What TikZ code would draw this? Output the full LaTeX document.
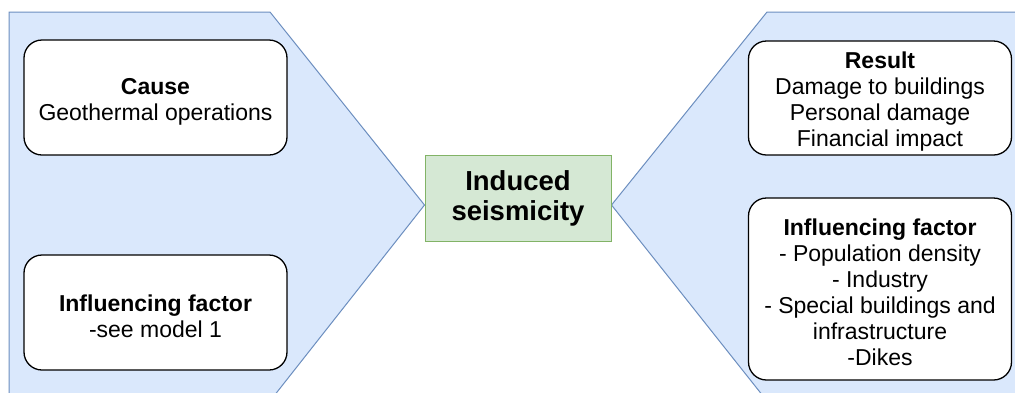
\documentclass[tikz,border=0pt]{standalone}
\usepackage{fontspec}
\setmainfont{Liberation Sans}
\usetikzlibrary{backgrounds}
\definecolor{bluefill}{HTML}{DAE8FC}
\definecolor{bluestroke}{HTML}{6C8EBF}
\definecolor{greenfill}{HTML}{D5E8D4}
\definecolor{greenstroke}{HTML}{82B366}
\newcommand{\tstrut}{\rule{0pt}{24pt}}
\begin{document}
\begin{tikzpicture}[x=1pt,y=-1pt,
  infobox/.style={draw=black, line width=1.3pt, fill=white, rounded corners=18pt,
    align=center, inner sep=0pt, minimum width=263pt,
    font=\fontsize{23}{26}\selectfont},
  centerbox/.style={draw=greenstroke, line width=1pt, fill=greenfill, align=center,
    minimum width=186pt, minimum height=86pt, inner sep=0pt,
    font=\fontsize{27.5}{30}\selectfont\bfseries},
  fishpanel/.style={draw=bluestroke, line width=1pt, fill=bluefill}]
\useasboundingbox (0,0) rectangle (1015,392);
\node[centerbox] (center) at (518,198) {Induced\\seismicity};
\coordinate (lapex) at (center.west |- 0,205);
\coordinate (rapex) at (center.east |- 0,205);
\begin{scope}[on background layer]
\clip (0,0) rectangle (1015,392);
\draw[fishpanel] (9,12) -- (270,12) -- (lapex) -- (270,401) -- (9,401) -- cycle;
\draw[fishpanel] (767,12) -- (1025,12) -- (1025,401) -- (767,401) -- (rapex) -- cycle;
\end{scope}
\node[infobox, minimum height=115pt] (cause) at (155.5,97.5)
  {\tstrut\textbf{Cause}\\Geothermal operations};
\node[infobox, minimum height=115pt] (linf) at (155.5,312.5)
  {\tstrut\textbf{Influencing factor}\\-see model 1};
\node[infobox, minimum height=114pt] (result) at (880,98)
  {\tstrut\textbf{Result}\\Damage to buildings\\Personal damage\\Financial impact};
\node[infobox, minimum height=182pt] (rinf) at (880,289)
  {\tstrut\textbf{Influencing factor}\\- Population density\\- Industry\\- Special buildings and\\infrastructure\\-Dikes};
\end{tikzpicture}
\end{document}
